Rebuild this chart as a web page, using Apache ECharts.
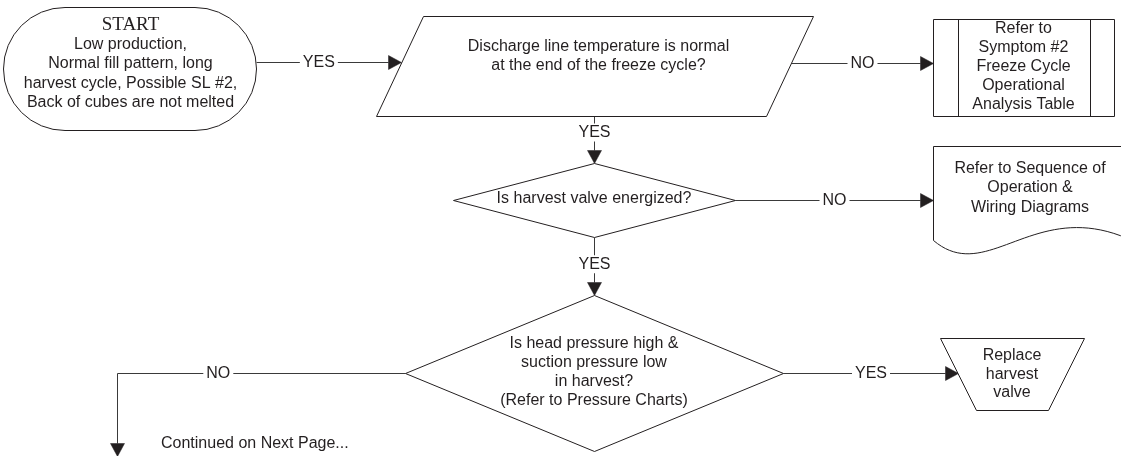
<!DOCTYPE html>
<html>
<head>
<meta charset="utf-8">
<title>Low production flowchart</title>
<script src="https://cdn.jsdelivr.net/npm/echarts@6/dist/echarts.min.js"></script>
<style>
  html, body { margin: 0; padding: 0; background: #fff; }
  #chart { width: 1121px; height: 456px; }
</style>
</head>
<body>
<div id="chart"></div>
<script>
// flowchart nodes (bounds in chart units)
const nodeIds = ["start", "discharge", "symptom", "valve", "sequence", "pressure", "replace", "next"];
const nodeKind = ["terminal", "data", "predefined", "decision", "document", "decision", "manual", "offpage"];
const nodeLeft = [3, 376, 933, 453, 933, 405, 940, 117];
const nodeTop = [7, 16, 19, 163, 146, 295, 338, 456];
const nodeRight = [256, 813, 1114, 735, 1127, 783, 1084, 117];
const nodeBottom = [130, 116, 116, 237, 240, 451, 410, 456];
const nodeText = [
  "START\nLow production,\nNormal fill pattern, long\nharvest cycle, Possible SL #2,\nBack of cubes are not melted",
  "Discharge line temperature is normal\nat the end of the freeze cycle?",
  "Refer to\nSymptom #2\nFreeze Cycle\nOperational\nAnalysis Table",
  "Is harvest valve energized?",
  "Refer to Sequence of\nOperation &\nWiring Diagrams",
  "Is head pressure high &\nsuction pressure low\nin harvest?\n(Refer to Pressure Charts)",
  "Replace\nharvest\nvalve",
  "Continued on Next Page..."
];

// connectors
const edgeFrom = ["start", "discharge", "discharge", "valve", "valve", "pressure", "pressure"];
const edgeTo = ["discharge", "symptom", "valve", "sequence", "pressure", "replace", "next"];
const edgeLabel = ["YES", "NO", "YES", "NO", "YES", "YES", "NO"];
const edgeRow = [62, 63, null, 200, null, 373, 373]; // null = vertical drop
const edgeLabelAt = [0.43, 0.5, 0.34, 0.5, 0.46, 0.5, 0.65];

const INK = "#231f20";
const LINE = "#3a3a3a";
const FONT = "16px 'Liberation Sans', Arial, sans-serif";
const SERIF = "19px 'Liberation Serif', 'Times New Roman', serif";
const ARROW_LEN = 13;
const ARROW_HALF = 7;
const SKEW = 47;     // parallelogram slant
const INSET = 36;    // manual operation slant
const SIDEBAR = 25;  // predefined process inner lines
const textShift = {
  terminal: [1, -4.5, 19.5],
  data: [4, -9.5, 19],
  predefined: [0, -0.5, 19],
  decision: [0, -1, 19],
  document: [0, -5, 19.5],
  manual: [0, 0.5, 18.5]
};

function idx(id) {
  return nodeIds.indexOf(id);
}

// x where a horizontal connector at y meets a node's outline
function sideX(i, y, side) {
  const x0 = nodeLeft[i], x1 = nodeRight[i], y0 = nodeTop[i], y1 = nodeBottom[i];
  const h = y1 - y0, cx = (x0 + x1) / 2, cy = (y0 + y1) / 2;
  switch (nodeKind[i]) {
    case "terminal": {
      const r = h / 2, d = y - cy;
      const off = r - Math.sqrt(Math.max(0, r * r - d * d));
      return side < 0 ? x0 + off : x1 - off;
    }
    case "data":
      return side < 0 ? x0 + SKEW * (y1 - y) / h : x1 - SKEW * (y - y0) / h;
    case "decision": {
      const k = 1 - Math.abs(y - cy) / (h / 2);
      return cx + side * (x1 - x0) / 2 * k;
    }
    case "manual":
      return side < 0 ? x0 + INSET * (y - y0) / h : x1 - INSET * (y - y0) / h;
    default:
      return side < 0 ? x0 : x1;
  }
}

function snap(api, x, y) {
  const c = api.coord([x, y]);
  return [Math.round(c[0]) + 0.5, Math.round(c[1]) + 0.5];
}

function renderNode(params, api) {
  const i = params.dataIndex;
  const kind = nodeKind[i];
  const x0 = api.value(0), y0 = api.value(1), x1 = api.value(2), y1 = api.value(3);
  const p = (x, y) => snap(api, x, y);
  const st = { fill: "#fff", stroke: INK, lineWidth: 1 };
  const children = [];
  const tl = p(x0, y0), br = p(x1, y1);
  const w = br[0] - tl[0], h = br[1] - tl[1];

  if (kind === "terminal") {
    children.push({ type: "rect", shape: { x: tl[0], y: tl[1], width: w, height: h, r: h / 2 }, style: st });
  } else if (kind === "data") {
    children.push({ type: "polygon", shape: { points: [p(x0 + SKEW, y0), p(x1, y0), p(x1 - SKEW, y1), p(x0, y1)] }, style: st });
  } else if (kind === "predefined") {
    children.push({ type: "rect", shape: { x: tl[0], y: tl[1], width: w, height: h }, style: st });
    children.push({ type: "line", shape: { x1: tl[0] + SIDEBAR, y1: tl[1], x2: tl[0] + SIDEBAR, y2: br[1] }, style: { stroke: INK, lineWidth: 1 } });
    children.push({ type: "line", shape: { x1: br[0] - SIDEBAR + 1, y1: tl[1], x2: br[0] - SIDEBAR + 1, y2: br[1] }, style: { stroke: INK, lineWidth: 1 } });
  } else if (kind === "decision") {
    const cx = (x0 + x1) / 2, cy = (y0 + y1) / 2;
    children.push({ type: "polygon", shape: { points: [p(cx, y0), p(x1, cy), p(cx, y1), p(x0, cy)] }, style: st });
  } else if (kind === "document") {
    // wavy bottom edge as a sampled cubic curve
    const hh = y1 - y0, ww = x1 - x0;
    const c0 = [x0, y1], c1 = [x0 + 0.275 * ww, y1 + 0.48 * hh], c2 = [x0 + 0.517 * ww, y1 - 0.45 * hh], c3 = [x1, y1 - 2];
    const pts = [p(x0, y0), p(x1, y0)];
    for (let k = 40; k >= 0; k--) {
      const t = k / 40, u = 1 - t;
      const bx = u * u * u * c0[0] + 3 * u * u * t * c1[0] + 3 * u * t * t * c2[0] + t * t * t * c3[0];
      const by = u * u * u * c0[1] + 3 * u * u * t * c1[1] + 3 * u * t * t * c2[1] + t * t * t * c3[1];
      const q = api.coord([bx, by]);
      pts.push([q[0] + 0.5, q[1] + 0.5]);
    }
    children.push({ type: "polygon", shape: { points: pts }, style: st });
  } else if (kind === "manual") {
    children.push({ type: "polygon", shape: { points: [p(x0, y0), p(x1, y0), p(x1 - INSET, y1), p(x0 + INSET, y1)] }, style: st });
  }

  if (kind === "offpage") {
    const c = api.coord([x0, y0]);
    children.push({ type: "text", style: { text: nodeText[i], x: c[0] + 44, y: c[1] - 12, align: "left", verticalAlign: "middle", font: FONT, fill: INK } });
  } else {
    const sh = textShift[kind];
    const c = api.coord([(x0 + x1) / 2, (y0 + y1) / 2]);
    const lines = nodeText[i].split("\n");
    lines.forEach((line, k) => {
      const serif = kind === "terminal" && k === 0;
      children.push({
        type: "text",
        style: {
          text: line,
          x: c[0] + sh[0],
          y: c[1] + sh[1] + (k - (lines.length - 1) / 2) * sh[2],
          align: "center",
          verticalAlign: "middle",
          font: serif ? SERIF : FONT,
          fill: INK
        }
      });
    });
  }
  return { type: "group", children: children };
}

function renderEdge(params, api) {
  const e = params.dataIndex;
  const s = idx(edgeFrom[e]), t = idx(edgeTo[e]);
  const row = edgeRow[e];
  let route;
  if (row === null) {
    const x = (nodeLeft[t] + nodeRight[t]) / 2;
    route = [[x, nodeBottom[s]], [x, nodeTop[t]]];
  } else if (nodeKind[t] === "offpage") {
    route = [[sideX(s, row, -1), row], [nodeLeft[t], row], [nodeLeft[t], nodeTop[t]]];
  } else {
    const dir = nodeLeft[t] > nodeLeft[s] ? 1 : -1;
    route = [[sideX(s, row, dir), row], [sideX(t, row, -dir), row]];
  }
  const px = route.map(q => snap(api, q[0], q[1]));
  const n = px.length;
  const tip = px[n - 1], prev = px[n - 2];
  const dx = tip[0] - prev[0], dy = tip[1] - prev[1];
  const len = Math.sqrt(dx * dx + dy * dy);
  const ux = dx / len, uy = dy / len;
  const base = [tip[0] - ux * ARROW_LEN, tip[1] - uy * ARROW_LEN];
  const linePts = px.slice(0, n - 1).concat([base]);
  const a = px[0], b = px[1], f = edgeLabelAt[e];
  const lp = [a[0] + (b[0] - a[0]) * f, a[1] + (b[1] - a[1]) * f];
  return {
    type: "group",
    children: [
      { type: "polyline", shape: { points: linePts }, style: { stroke: LINE, lineWidth: 1, fill: null } },
      {
        type: "polygon",
        shape: { points: [tip, [base[0] - uy * ARROW_HALF, base[1] + ux * ARROW_HALF], [base[0] + uy * ARROW_HALF, base[1] - ux * ARROW_HALF]] },
        style: { fill: INK, stroke: INK, lineWidth: 0.5 }
      },
      {
        type: "text",
        style: {
          text: edgeLabel[e], x: lp[0], y: lp[1], align: "center", verticalAlign: "middle",
          font: FONT, fill: INK, backgroundColor: "#fff", padding: [1, 3]
        }
      }
    ]
  };
}

const chart = echarts.init(document.getElementById("chart"));
chart.setOption({
  animation: false,
  grid: { left: 0, right: 0, top: 0, bottom: 0 },
  xAxis: { type: "value", min: 0, max: 1121, show: false },
  yAxis: { type: "value", min: 0, max: 456, inverse: true, show: false },
  series: [
    {
      type: "custom",
      name: "connectors",
      silent: true,
      clip: false,
      z: 1,
      renderItem: renderEdge,
      data: edgeFrom.map((_, i) => [i, 0])
    },
    {
      type: "custom",
      name: "steps",
      silent: true,
      clip: false,
      z: 2,
      renderItem: renderNode,
      data: nodeIds.map((_, i) => [nodeLeft[i], nodeTop[i], nodeRight[i], nodeBottom[i]])
    }
  ]
});
</script>
</body>
</html>
